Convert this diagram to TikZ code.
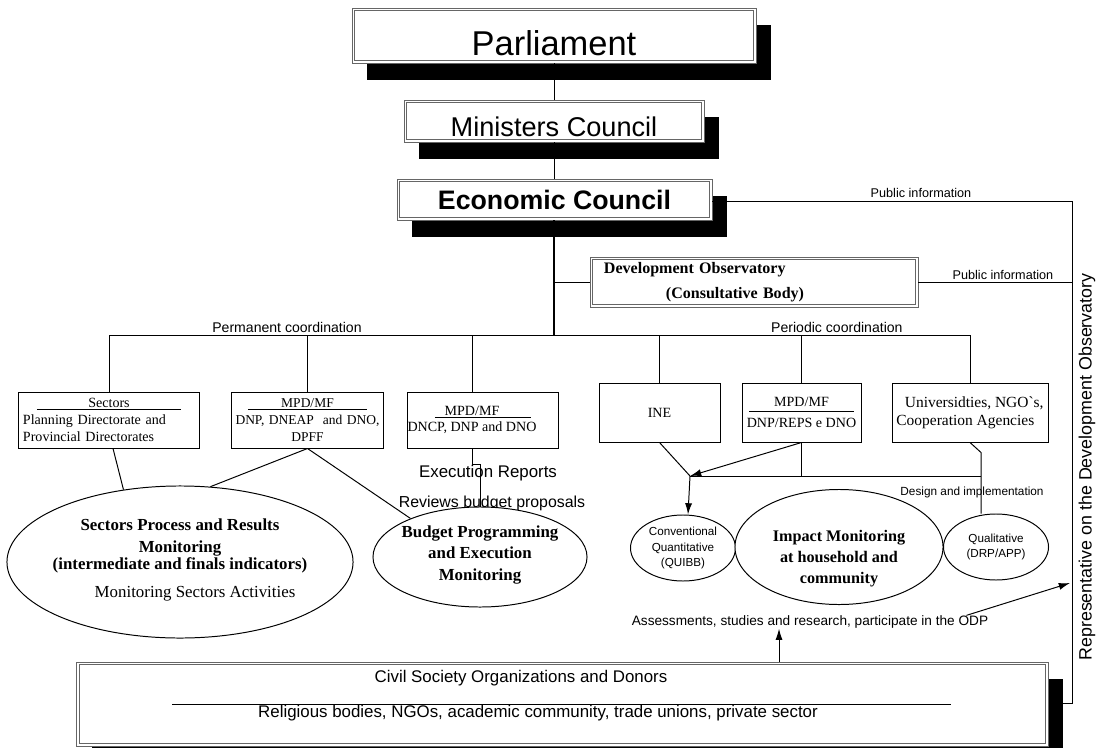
\documentclass[tikz,border=0pt]{standalone}
\usepackage{fontspec}
\setmainfont{Liberation Serif}
\newfontfamily\arialfam{Liberation Sans}
\usepackage{tikz}
\usetikzlibrary{arrows.meta}
\usetikzlibrary{shapes.geometric}
\usetikzlibrary{shadows}
\newcommand{\fsz}[2]{\fontsize{#1}{#2}\selectfont}

\begin{document}
\begin{tikzpicture}[x=0.025cm,y=-0.025cm,
 dbl/.style={draw=black!60,line width=0.6pt,fill=white,inner sep=0pt,
  path picture={\draw[black!60,line width=0.6pt] ([shift={(1.9pt,-1.9pt)}]path picture bounding box.north west) rectangle ([shift={(-1.9pt,1.9pt)}]path picture bounding box.south east);}},
 shbox/.style={dbl,drop shadow={shadow xshift=10.7pt,shadow yshift=-12pt,fill=black,opacity=1}},
 unit/.style={draw,line width=0.7pt,fill=white,inner sep=0pt,font=\fsz{10}{12}},
 oval/.style={ellipse,draw,line width=0.7pt,fill=white,inner sep=0pt},
 sans/.style={inner sep=0pt,font=\arialfam\fsz{10}{12}},
 link/.style={line width=0.7pt},
 arr/.style={line width=0.7pt,-{Latex[length=8pt,width=5pt]}}]
\useasboundingbox (0,0) rectangle (1103,748);

\node[shbox,minimum width=10.1cm,minimum height=1.375cm,font=\arialfam\fsz{24.5}{28}] (Parl) at (554,35.5) {\raisebox{-5.5pt}[\height][\depth]{Parliament}};
\node[shbox,minimum width=7.5cm,minimum height=1.05cm,font=\arialfam\fsz{19.3}{22}] (Mins) at (554,121) {\raisebox{-4pt}[\height][\depth]{Ministers Council}};
\node[shbox,minimum width=7.875cm,minimum height=1.025cm,font=\arialfam\bfseries\fsz{19}{22}] (Econ) at (554.5,199.5) {Economic Council};
\node[dbl,minimum width=8.2cm,minimum height=1.25cm,text width=7.5cm,align=left,font=\bfseries\fsz{11.4}{14}] (Obs) at (754,282) {Development Observatory\\[4pt]\hspace*{1.55cm}(Consultative Body)};

\node[unit,minimum width=4.5cm,minimum height=1.4cm,text width=4.3cm,align=left] (Sec) at (109,420) {\makebox[4.3cm]{Sectors}\\[-10.6pt]\makebox[4.3cm]{\rule{3.6cm}{0.4pt}}\\[-1.4pt]Planning Directorate and\\Provincial Directorates};
\node[unit,minimum width=3.775cm,minimum height=1.4cm,text width=3.775cm,align=center,font=\fsz{9.6}{12}] (Mpd1) at (307.5,420) {MPD/MF\\[-10.6pt]\rule{2.975cm}{0.4pt}\\[-1.4pt]DNP, DNEAP\ \ and DNO,\\DPFF};
\node[unit,minimum width=3.55cm,minimum height=1.4cm,align=center] (Mpd2) at (483,420) {MPD/MF\hspace*{0.55cm}\\[-10.6pt]\rule{2.4cm}{0.4pt}\hspace*{0.55cm}\\[-1.4pt]DNCP, DNP and DNO\hspace*{0.55cm}};
\node[unit,minimum width=3.025cm,minimum height=1.475cm] (Ine) at (659.5,412.5) {INE};
\node[unit,minimum width=2.975cm,minimum height=1.475cm,align=center] (Mpd3) at (801.5,412.5) {MPD/MF\\[-8.5pt]\rule{2.6cm}{0.4pt}\\[-0.9pt]DNP/REPS e DNO};
\node[unit,minimum width=3.9cm,minimum height=1.475cm,align=left,font=\fsz{11}{13}] (Uni) at (970,412.5) {\hspace*{6pt}Universidties, NGO\textasciigrave s,\\Cooperation Agencies};

\node[sans,font=\arialfam\fsz{12}{14}] (ExeT) at (488,473) {Execution Reports};
\node[sans,font=\arialfam\fsz{11.3}{14}] (RevT) at (492,503) {Reviews budget proposals};

\node[oval,minimum width=8.65cm,minimum height=3.8cm] (SecE) at (180,562) {};
\node[inner sep=0pt,align=center,font=\bfseries\fsz{12}{14}] (SecT) at ([yshift=0.05cm]SecE.center) {Sectors Process and Results\\[1pt]Monitoring\\[-1.5pt](intermediate and finals indicators)\\[5.5pt]\hspace*{0.75cm}\normalfont Monitoring Sectors Activities};
\node[oval,minimum width=5.35cm,minimum height=2.5cm] (BudE) at (480,557) {};
\node[inner sep=0pt,align=center,font=\bfseries\fsz{12}{15.5}] (BudT) at ([yshift=0.05cm]BudE.center) {Budget Programming\\and Execution\\Monitoring};

\node[oval,minimum width=2.625cm,minimum height=1.65cm,align=center,font=\arialfam\fsz{8.3}{10.7}] (ConvE) at (683,548) {Conventional\\Quantitative\\(QUIBB)};
\node[oval,minimum width=5.2cm,minimum height=2.875cm] (ImpE) at (839,547) {};
\node[inner sep=0pt,align=center,font=\bfseries\fsz{11.5}{15}] (ImpT) at ([yshift=-0.3cm]ImpE.center) {Impact Monitoring\\at household and\\community};
\node[oval,minimum width=2.625cm,minimum height=1.65cm,align=center,font=\arialfam\fsz{8.3}{10.7}] (QualE) at (996,547) {Qualitative\\(DRP/APP)};
\node[sans,font=\arialfam\fsz{8.4}{10}] (DesT) at (972,492) {Design and implementation};
\node[sans,font=\arialfam\fsz{9.7}{12}] (OdpT) at (810,622) {Assessments, studies and research, participate in the ODP};

\node[shbox,minimum width=24.275cm,minimum height=2.1cm] (Civ) at (562.5,704) {};
\node[sans,font=\arialfam\fsz{12}{14}] (CivT) at (521,678) {Civil Society Organizations and Donors};
\node[sans,font=\arialfam\fsz{12}{14}] (CivS) at (538,713) {Religious bodies, NGOs, academic community, trade unions, private sector};
\draw[link] (172,704) -- (951,704);

\node[sans,rotate=90,font=\arialfam\fsz{12.7}{14}] (RepT) at (1087,467) {Representative on the Development Observatory};

\coordinate (Hub) at (554,335);
\coordinate (B2) at (472,335);
\coordinate (PubT) at (1072,201);
\coordinate (PubB) at (1072,703);
\coordinate (Jn) at (690,476);
\coordinate (Jq) at (981,476);
\coordinate (RepIn) at (1070,583);

\draw[link] (Parl) -- (Mins);
\draw[link] (Mins) -- (Mins.south |- Econ.north);
\draw[line width=1.5pt] (Econ.south -| Hub) -- (Hub);
\draw[link] (Obs.west -| Hub) -- (Obs.west);
\draw[link] (Sec.north |- Hub) -- (Hub) node[pos=0.4,above=1pt,sans] {Permanent coordination};
\draw[link] (Hub) -- (Uni.north |- Hub) node[pos=0.68,above=1pt,sans] {Periodic coordination};
\draw[link] (Sec.north |- Hub) -- (Sec.north);
\draw[link] (Mpd1.north |- Hub) -- (Mpd1.north);
\draw[link] (B2) -- (B2 |- Mpd2.north);
\draw[link] (Ine.north |- Hub) -- (Ine.north);
\draw[link] (Mpd3.north |- Hub) -- (Mpd3.north);
\draw[link] (Uni.north |- Hub) -- (Uni.north);

\draw[link] (Econ.east |- PubT) -- (PubT) node[pos=0.58,above=2pt,sans,font=\arialfam\fsz{9}{11}] {Public information};
\draw[link] (PubT) -- (PubB) -- (Civ.east |- PubB);
\draw[link] (Obs.east) -- (Obs.east -| PubT) node[pos=0.55,above=1pt,sans,font=\arialfam\fsz{9}{11}] {Public information};

\draw[link] ([xshift=0.1cm]Sec.south) -- (SecE.128);
\draw[link] (Mpd1.south) -- (SecE.68);
\draw[link] (Mpd1.south) -- (BudE.151);
\draw[link] (B2 |- Mpd2.south) -- (B2 |- ExeT.north) -| (BudE.north);

\draw[link] (Ine.south) -- (Jn);
\draw[arr] (Mpd3.south) -- (Jn);
\draw[link] (Mpd3.south) -- (Mpd3.south |- Jn);
\draw[link] (Jn) -- (Jq);
\draw[arr] (Jn) -- ([xshift=0.125cm]ConvE.north);
\draw[link] (Uni.south) -- ++(11,10) -- (Jq) -- (Jq |- QualE.north);

\draw[arr] ([xshift=-0.55cm]OdpT.north east) -- (RepIn);
\draw[arr] (Civ.north -| 779,0) -- (OdpT.south -| 779,0);
\end{tikzpicture}
\end{document}
